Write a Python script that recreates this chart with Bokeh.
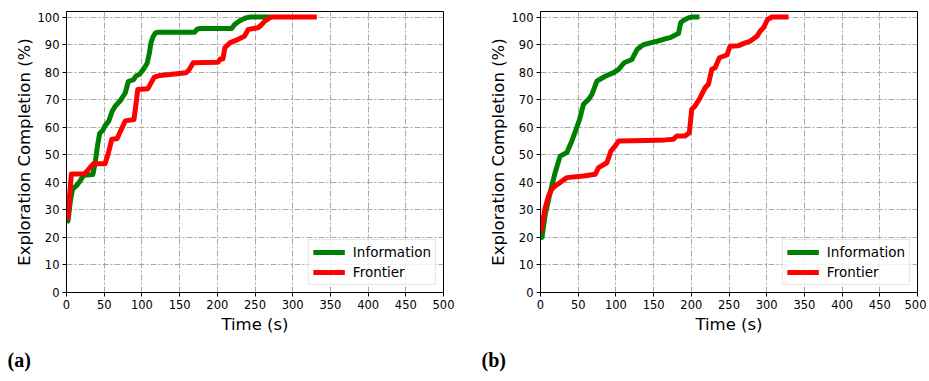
from bokeh.plotting import figure
from bokeh.layouts import row
from bokeh.models import Range1d, FixedTicker, Legend, LegendItem, Title
from bokeh.embed import file_html
from bokeh.resources import INLINE

# ---- data ----
a_info_t = [0, 2, 5, 8, 13, 18, 23, 35, 38, 41, 44, 48, 51, 56, 61, 65, 71, 78, 82, 89,
            92, 97, 102, 107, 110, 112, 115, 118, 122, 170, 173, 176, 219, 223, 228, 233,
            238, 244, 270]
a_info_v = [25.5, 26, 33, 37.5, 38.7, 40.5, 42.6, 42.8, 47, 53, 57.8, 58.8, 60.5, 62.2, 66,
            67.8, 69.5, 72.5, 76.6, 77.3, 78.6, 79.2, 81, 83.2, 87, 90.6, 93, 94.2, 94.5,
            94.5, 95.5, 95.8, 95.8, 97.3, 98.3, 99.1, 99.7, 100, 100]
a_front_t = [2, 4, 6.5, 23.5, 28, 35.5, 51, 55, 60, 67, 72, 78, 89.5, 92, 94.5, 108, 112,
             116.5, 124, 137, 159, 163, 168, 201, 204, 207.5, 210, 216.5, 227, 236, 241,
             254, 258, 263, 271.5, 332]
a_front_v = [26.5, 35, 43, 43, 44.3, 46.7, 46.7, 50, 55.6, 55.8, 58.8, 62.3, 62.8, 68, 73.7,
             74, 76, 78.2, 78.8, 79.1, 79.8, 81, 83.4, 83.6, 84.8, 84.8, 88.8, 90.6, 91.8,
             93, 95.5, 96.1, 97, 98.5, 100, 100]

b_info_t = [0, 2, 6, 12.8, 19.4, 26, 35, 41.6, 47, 51.8, 57, 63.7, 68.2, 74.8, 85.9, 97,
            103.6, 111, 121.3, 128, 136.8, 154.5, 165.6, 171.8, 180.7, 183, 186, 190, 196,
            201, 210.8]
b_info_v = [20.5, 20, 28, 36.3, 43.5, 49.5, 50.8, 55, 59, 62.8, 68.3, 70.1, 71.9, 76.7, 78.5,
            79.8, 81, 83.4, 84.6, 88.2, 90, 91.2, 92.1, 92.5, 93.7, 94, 98, 98.8, 99.7, 100,
            100]
b_front_t = [0, 3, 6, 10.6, 15, 19.4, 26, 35, 57, 72.6, 77, 88, 93.4, 99.2, 103.6, 140, 165.6,
             176, 180.7, 191.7, 197.4, 200.6, 205, 211.7, 218.3, 222.7, 227.2, 231.6, 237.3,
             247.1, 251.5, 262.6, 271.5, 278, 287, 291.4, 295.8, 301.1, 307, 329]
b_front_v = [21.8, 26, 30.5, 35, 37.5, 38.7, 39.9, 41.7, 42.3, 42.9, 45.3, 47.1, 51.3, 53.2,
             55, 55.2, 55.4, 55.6, 56.8, 56.8, 58, 66.5, 67.7, 70.7, 74.3, 75.6, 81, 81.6,
             85.2, 86.2, 89.4, 89.6, 90.6, 91.2, 93, 94.9, 96.1, 99.1, 100, 100]

x_ticks = [0, 50, 100, 150, 200, 250, 300, 350, 400, 450, 500]
y_ticks = [0, 10, 20, 30, 40, 50, 60, 70, 80, 90, 100]
series_names = ["Information", "Frontier"]
panel_labels = ["(a)", "(b)"]

FONT = "DejaVu Sans"


def make_panel(info_t, info_v, front_t, front_v, tag, width, left, right):
    p = figure(width=width, height=381, output_backend="svg", toolbar_location=None,
               x_range=Range1d(0, 500), y_range=Range1d(0, 102),
               min_border_left=left, min_border_right=right,
               min_border_top=11, min_border_bottom=89)
    p.background_fill_color = "white"
    p.border_fill_color = "white"
    p.outline_line_color = "black"
    p.outline_line_width = 1

    for ax, ticks in ((p.xaxis[0], x_ticks), (p.yaxis[0], y_ticks)):
        ax.ticker = FixedTicker(ticks=ticks)
        ax.minor_tick_line_color = None
        ax.major_tick_out = 4
        ax.major_tick_in = 0
        ax.major_tick_line_color = "black"
        ax.axis_line_color = "black"
        ax.major_label_text_font = FONT
        ax.major_label_text_font_size = "11.5px"
        ax.major_label_text_color = "black"
        ax.major_label_standoff = 3
        ax.axis_label_text_font = FONT
        ax.axis_label_text_font_size = "16.5px"
        ax.axis_label_text_font_style = "normal"
        ax.axis_label_text_color = "black"
    p.xaxis.axis_label = "Time (s)"
    p.xaxis.axis_label_standoff = 3
    p.yaxis.axis_label = "Exploration Completion (%)"
    p.yaxis.axis_label_standoff = 1

    p.xgrid[0].ticker = p.xaxis[0].ticker
    p.ygrid[0].ticker = p.yaxis[0].ticker
    for g in (p.xgrid[0], p.ygrid[0]):
        g.grid_line_color = "#a8a8a8"
        g.grid_line_width = 1
        g.grid_line_dash = "6 2 2 2"

    r1 = p.line(info_t, info_v, line_color="#008000", line_width=5, line_join="round")
    r2 = p.line(front_t, front_v, line_color="#ff0000", line_width=5, line_join="round")

    legend = Legend(items=[LegendItem(label=series_names[0], renderers=[r1]),
                           LegendItem(label=series_names[1], renderers=[r2])],
                    location="bottom_right")
    legend.margin = 7
    legend.padding = 4
    legend.spacing = 4
    legend.glyph_width = 32
    legend.glyph_height = 16
    legend.label_height = 16
    legend.label_standoff = 8
    legend.label_text_font = FONT
    legend.label_text_font_size = "13.5px"
    legend.label_text_color = "black"
    legend.border_line_color = "#cccccc"
    legend.border_line_width = 1
    legend.background_fill_color = "white"
    legend.background_fill_alpha = 0.8
    p.add_layout(legend, "center")

    tag_title = Title(text=tag, align="left", offset=-59, standoff=20,
                      text_font="Liberation Serif", text_font_style="bold",
                      text_font_size="20px", text_line_height=1.0, text_color="black")
    p.add_layout(tag_title, "below")
    return p


pa = make_panel(a_info_t, a_info_v, a_front_t, a_front_v, panel_labels[0], 464, 66, 21)
pb = make_panel(b_info_t, b_info_v, b_front_t, b_front_v, panel_labels[1], 462, 76, 9)

layout = row(pa, pb)
open("out.html", "w").write(file_html(layout, INLINE))
